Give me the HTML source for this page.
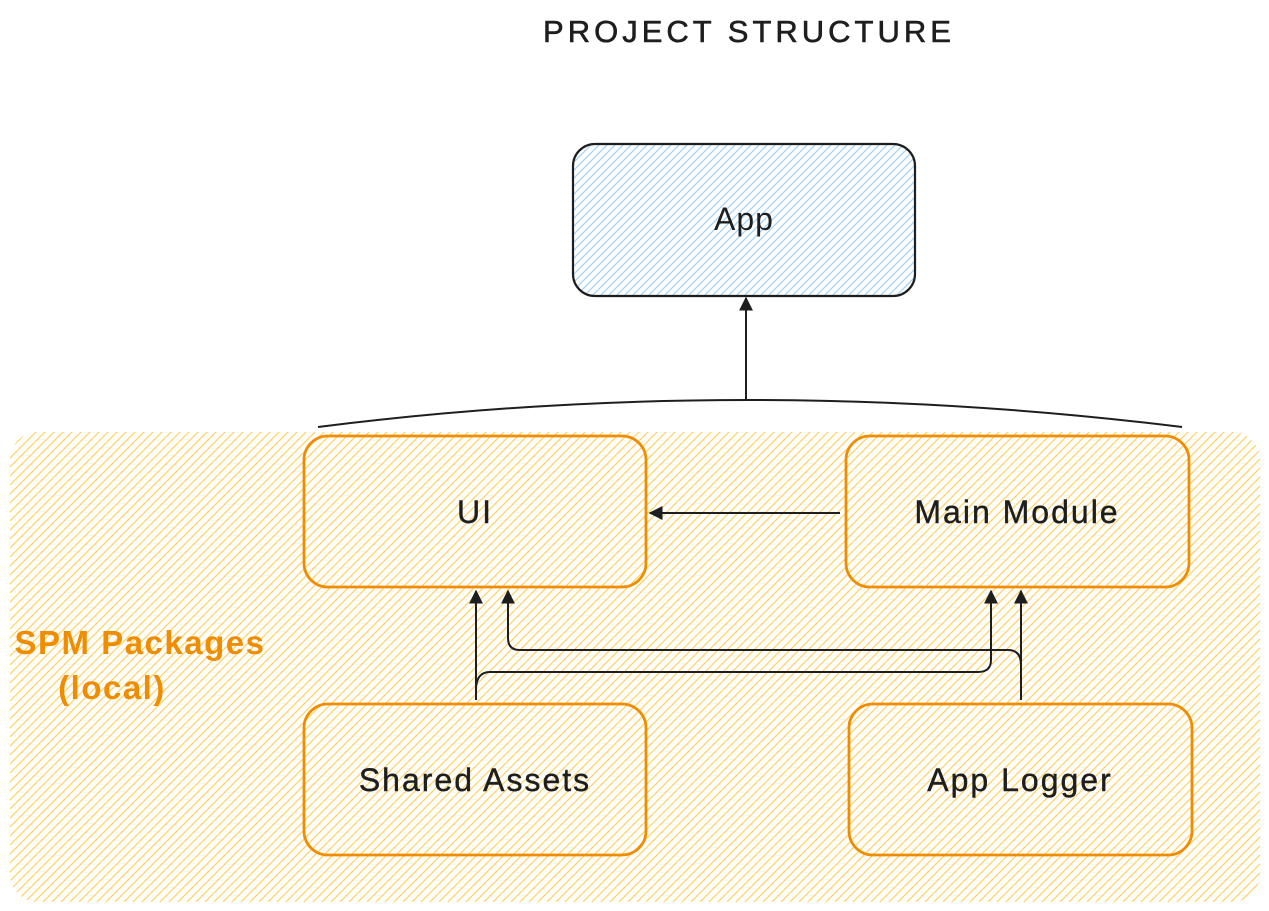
<!DOCTYPE html>
<html><head><meta charset="utf-8"><style>
html,body{margin:0;padding:0;background:#fff;width:1269px;height:911px;overflow:hidden}
svg{display:block}
text{font-family:"Liberation Sans",sans-serif}
</style></head><body>
<svg width="1269" height="911" viewBox="0 0 1269 911" xmlns="http://www.w3.org/2000/svg">
<defs>
<pattern id="hy" width="9" height="9" patternUnits="userSpaceOnUse">
<path d="M-1,10 L10,-1 M-1,1 L1,-1 M8,10 L10,8" stroke="#ffd260" stroke-width="1.2"/>
</pattern>
<pattern id="hb" width="8" height="8" patternUnits="userSpaceOnUse">
<path d="M-1,9 L9,-1 M-1,1 L1,-1 M7,9 L9,7" stroke="#a0d3f8" stroke-width="1.2"/>
</pattern>
<marker id="ah" viewBox="0 0 10 10" refX="9" refY="5" markerWidth="7" markerHeight="7" orient="auto">
<path d="M0,0 L10,5 L0,10 z" fill="#1e1e1e"/>
</marker>
</defs>
<text x="749" y="42" text-anchor="middle" font-size="31" fill="#1e1e1e" letter-spacing="4" stroke="#1e1e1e" stroke-width="0.6">PROJECT STRUCTURE</text>

<rect x="10" y="432" width="1250" height="470" rx="28" fill="url(#hy)"/>

<rect x="573" y="144" width="342" height="152" rx="22" fill="url(#hb)" stroke="#1e1e1e" stroke-width="2.2"/>
<text x="744" y="230" text-anchor="middle" font-size="32" fill="#1e1e1e" letter-spacing="1">App</text>

<g fill="none" stroke="#f08c00" stroke-width="2.8">
<rect x="304" y="436" width="342" height="151" rx="24"/>
<rect x="846" y="436" width="343" height="151" rx="24"/>
<rect x="304" y="704" width="342" height="151" rx="24"/>
<rect x="849" y="704" width="343" height="151" rx="24"/>
</g>
<g font-size="32" fill="#1e1e1e" text-anchor="middle" letter-spacing="2" stroke="#1e1e1e" stroke-width="0.4">
<text x="475" y="523">UI</text>
<text x="1017" y="523">Main Module</text>
<text x="475" y="791">Shared Assets</text>
<text x="1020" y="791">App Logger</text>
</g>
<g font-size="33" fill="#f08c00" text-anchor="middle" font-weight="bold" letter-spacing="1.5">
<text x="140" y="654">SPM Packages</text>
<text x="112" y="699">(local)</text>
</g>

<g fill="none" stroke="#1e1e1e" stroke-width="2">
<path d="M318,427 Q746,373 1182,427"/>
<path d="M746,400 L746,298" marker-end="url(#ah)"/>
<path d="M840,513 L650,513" marker-end="url(#ah)"/>
<path d="M476,700 L476,591" marker-end="url(#ah)"/>
<path d="M476,690 Q476,672 490,672 L978,672 Q991,672 991,660 L991,591" marker-end="url(#ah)"/>
<path d="M1021,700 L1021,591" marker-end="url(#ah)"/>
<path d="M1021,665 Q1021,650 1008,650 L520,650 Q508,650 508,638 L508,591" marker-end="url(#ah)"/>
</g>
</svg>
</body></html>
